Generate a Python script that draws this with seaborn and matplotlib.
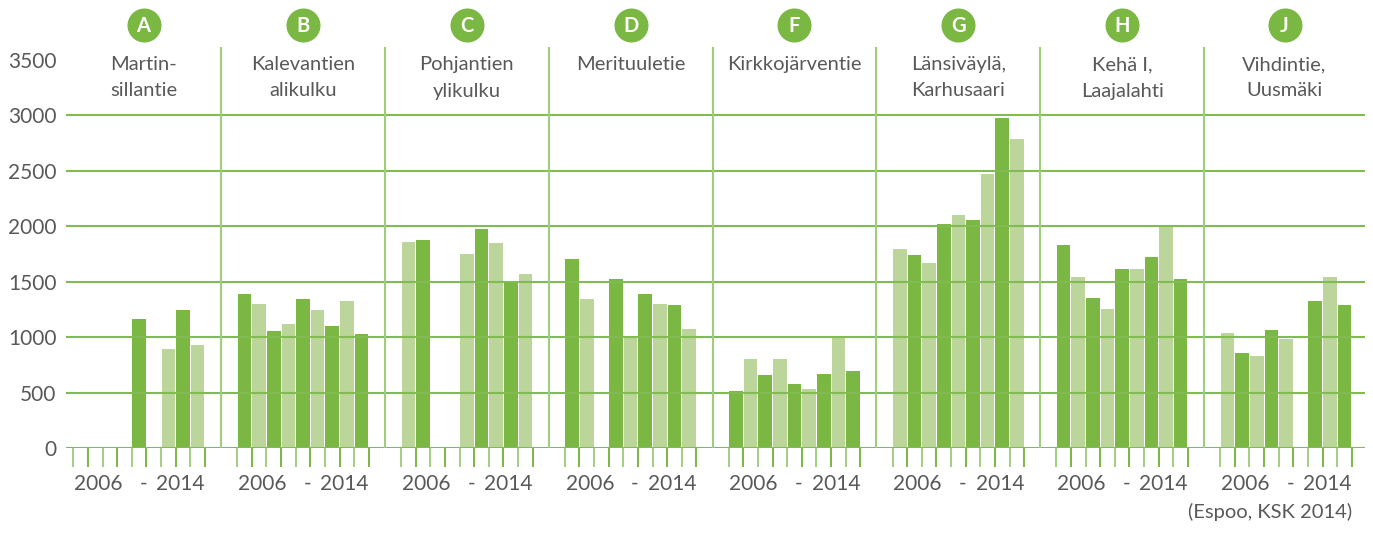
import numpy as np
import pandas as pd
import seaborn as sns
import matplotlib.pyplot as plt

# data: cyclists per day, counting points in Espoo 2006-2014
years = list(range(2006, 2015))
badges = ['A', 'B', 'C', 'D', 'F', 'G', 'H', 'J']
sites = ['Martin-\nsillantie', 'Kalevantien\nalikulku', 'Pohjantien\nylikulku', 'Merituuletie',
         'Kirkkojärventie', 'Länsiväylä,\nKarhusaari', 'Kehä I,\nLaajalahti', 'Vihdintie,\nUusmäki']
nan = np.nan
martinsillantie = [nan, nan, nan, nan, 1160, nan, 890, 1240, 925]
kalevantien = [1385, 1295, 1050, 1120, 1345, 1240, 1095, 1320, 1025]
pohjantien = [1860, 1870, nan, nan, 1750, 1970, 1845, 1500, 1570]
merituuletie = [1705, 1340, nan, 1525, 1005, 1390, 1295, 1285, 1075]
kirkkojarventie = [510, 805, 655, 805, 580, 530, 670, 1000, 690]
lansivayla = [1795, 1735, 1670, 2015, 2095, 2050, 2465, 2975, 2780]
keha1 = [1825, 1545, 1355, 1255, 1610, 1610, 1725, 1995, 1520]
vihdintie = [1040, 860, 825, 1060, 980, nan, 1320, 1545, 1285]
series = [martinsillantie, kalevantien, pohjantien, merituuletie,
          kirkkojarventie, lansivayla, keha1, vihdintie]
# shade of first non-empty bar, shades then alternate
first_tone = ['dark', 'dark', 'light', 'dark', 'dark', 'light', 'dark', 'light']
yticks = list(range(0, 3501, 500))

DARK = '#7ab743'
LIGHT = '#bbd59a'
GRID = '#82bb52'
SEP = '#9fcd7c'
TXT = '#595959'

pitch = 11.2
rows = []
for g, (site, vals, t0) in enumerate(zip(sites, series, first_tone)):
    tone = t0
    for i, (yr, v) in enumerate(zip(years, vals)):
        if np.isnan(v):
            continue
        rows.append({'site': site, 'year': yr, 'pos': g * pitch + i, 'value': v, 'tone': tone})
        tone = 'light' if tone == 'dark' else 'dark'
df = pd.DataFrame(rows)

plt.rcParams['font.family'] = ['Lato', 'DejaVu Sans']
fig = plt.figure(figsize=(13.73, 5.33), dpi=100)
ytop = 3613
ax = fig.add_axes([66 / 1373, (533 - 448) / 533, (1365 - 66) / 1373, 401 / 533])

sns.barplot(data=df, x='pos', y='value', hue='tone', palette={'dark': DARK, 'light': LIGHT},
            native_scale=True, dodge=False, width=0.93, legend=False, errorbar=None,
            saturation=1, linewidth=0, ax=ax)

xmin, xmax = -1.0, (len(sites) - 1) * pitch + 9.4
ax.set_xlim(xmin, xmax)
ax.set_ylim(0, ytop)
for s in ax.spines.values():
    s.set_visible(False)
ax.set_xticks([])
ax.set_yticks(yticks)
ax.set_yticklabels([str(v) for v in yticks], fontsize=15, color=TXT)
ax.tick_params(axis='y', length=0, pad=7)
ax.set_xlabel('')
ax.set_ylabel('')

# horizontal grid lines (drawn over the bars)
ax.hlines(yticks[:-1], xmin, xmax, color=GRID, lw=1.5, zorder=3)

# group separators, labels, badges
seps = [g * pitch - 1.6 for g in range(1, len(sites))]
ax.vlines(seps, 0, ytop, color=SEP, lw=1.5, zorder=3, clip_on=False)
bounds = [xmin] + seps + [xmax]
px = ytop / 401  # data units per pixel
for g, (site, badge) in enumerate(zip(sites, badges)):
    cx = (bounds[g] + bounds[g + 1]) / 2
    for k, line in enumerate(site.split('\n')):
        ax.text(cx, (378 - 26.5 * k) * px, line, ha='center', va='baseline', fontsize=14.5,
                color=TXT, clip_on=False)
    ax.scatter([cx], [423 * px], s=600, color=DARK, clip_on=False, zorder=5, linewidths=0)
    ax.text(cx, 422 * px, badge, ha='center', va='center', fontsize=14.5, color='white',
            fontweight='bold', clip_on=False, zorder=6)

    # small tick marks below each bar and year range labels
    left = g * pitch - 0.5
    edges = [left + i for i in range(len(years) + 1)]
    ax.vlines(edges, -19 * px, 0, color=[DARK if i % 2 else '#a5cd84' for i in range(len(edges))],
              lw=1.4, clip_on=False)
    ax.annotate(str(years[0]), (left + 0.05, 0), xytext=(0, -26), textcoords='offset points',
                ha='left', va='center', fontsize=15, color=TXT)
    ax.annotate('-', (left + 4.8, 0), xytext=(0, -26), textcoords='offset points',
                ha='center', va='center', fontsize=15, color=TXT)
    ax.annotate(str(years[-1]), (left + 9.0, 0), xytext=(0, -26), textcoords='offset points',
                ha='right', va='center', fontsize=15, color=TXT)

fig.text(1352 / 1373, (533 - 518) / 533, '(Espoo, KSK 2014)', ha='right', va='baseline',
         fontsize=14.5, color=TXT)

fig.savefig('out.png', dpi=100)
